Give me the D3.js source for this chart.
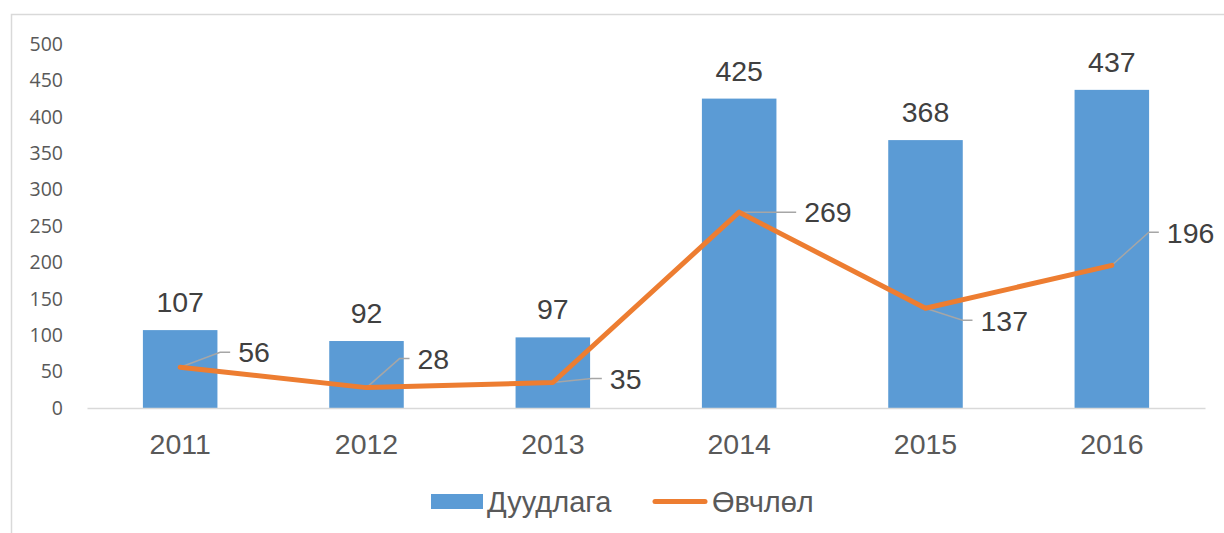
<!DOCTYPE html>
<html>
<head>
<meta charset="utf-8">
<script src="https://cdn.jsdelivr.net/npm/d3@7"></script>
<style>
  body { margin: 0; background: #fff; }
  #chart-box { width: 1224px; height: 533px; }
</style>
</head>
<body>
<div id="chart-box"></div>
<script>
// Chart data
const years = ["2011", "2012", "2013", "2014", "2015", "2016"];
const calls = [107, 92, 97, 425, 368, 437];      // Дуудлага (bars)
const illness = [56, 28, 35, 269, 137, 196];     // Өвчлөл (line)
const yTicks = [0, 50, 100, 150, 200, 250, 300, 350, 400, 450, 500];
const seriesNames = ["Дуудлага", "Өвчлөл"];

// label offsets for the line data labels (moved by hand in the original)
const lineLabelShift = [[58, -15], [51, -29], [57, -4], [65, 0], [55, 12], [55, -33]];

const w = 1224, h = 533;
const blue = "#5B9BD5", orange = "#ED7D31";

const svg = d3.select("#chart-box")
  .append("svg")
  .attr("width", w)
  .attr("height", h)
  .style("font-family", "'Liberation Sans', Arial, sans-serif");

// frame (only top and left edges visible)
svg.append("path")
  .attr("d", "M11.5," + h + "V14.5H" + w)
  .attr("fill", "none")
  .attr("stroke", "#D9D9D9")
  .attr("stroke-width", 1.5);

// scales
const x = d3.scaleBand()
  .domain(years)
  .range([87, 1205])
  .paddingInner(0.6)
  .paddingOuter(0.3);

const y = d3.scaleLinear()
  .domain([0, 500])
  .range([408, 44]);

// Y axis labels
const yAxis = d3.axisLeft(y).tickValues(yTicks).tickSize(0).tickPadding(0);
const gy = svg.append("g")
  .attr("transform", "translate(63,0)")
  .call(yAxis);
gy.select(".domain").remove();
gy.selectAll("text")
  .attr("fill", "#595959")
  .style("font-family", "'Open Sans', 'Noto Sans', sans-serif")
  .style("font-size", "19.5px");

// bars
svg.selectAll("rect.bar")
  .data(calls)
  .enter()
  .append("rect")
  .attr("class", "bar")
  .attr("x", (d, i) => x(years[i]))
  .attr("y", d => y(d))
  .attr("width", x.bandwidth())
  .attr("height", d => y(0) - y(d))
  .attr("fill", blue);

// X axis baseline and labels
const xAxis = d3.axisBottom(x).tickSize(0).tickPadding(0);
const gx = svg.append("g")
  .attr("transform", "translate(0," + y(0) + ")")
  .call(xAxis);
gx.select(".domain")
  .attr("stroke", "#D9D9D9")
  .attr("stroke-width", 1.5);
gx.selectAll("text")
  .attr("fill", "#595959")
  .attr("dy", "1.6em")
  .style("font-family", "'Liberation Sans', Arial, sans-serif")
  .style("font-size", "28.5px");

// bar value labels
svg.selectAll("text.bar-label")
  .data(calls)
  .enter()
  .append("text")
  .attr("class", "bar-label")
  .attr("x", (d, i) => x(years[i]) + x.bandwidth() / 2)
  .attr("y", d => y(d) - 18)
  .attr("text-anchor", "middle")
  .attr("fill", "#404040")
  .style("font-size", "28.5px")
  .text(d => d);

// line
const cx = (d, i) => x(years[i]) + x.bandwidth() / 2;
const line = d3.line()
  .x(cx)
  .y(d => y(d));

// leader lines
svg.selectAll("path.leader")
  .data(illness)
  .enter()
  .append("path")
  .attr("class", "leader")
  .attr("d", (d, i) => {
    const px = cx(d, i), py = y(d);
    const s = lineLabelShift[i];
    return "M" + px + "," + py + "L" + (px + s[0] - 18) + "," + (py + s[1]) +
      "L" + (px + s[0] - 8) + "," + (py + s[1]);
  })
  .attr("fill", "none")
  .attr("stroke", "#A6A6A6")
  .attr("stroke-width", 1.5);

svg.append("path")
  .datum(illness)
  .attr("d", line)
  .attr("fill", "none")
  .attr("stroke", orange)
  .attr("stroke-width", 5)
  .attr("stroke-linejoin", "round")
  .attr("stroke-linecap", "round");

// line value labels
svg.selectAll("text.line-label")
  .data(illness)
  .enter()
  .append("text")
  .attr("class", "line-label")
  .attr("x", (d, i) => cx(d, i) + lineLabelShift[i][0])
  .attr("y", (d, i) => y(d) + lineLabelShift[i][1])
  .attr("dy", "0.36em")
  .attr("fill", "#404040")
  .style("font-size", "28.5px")
  .text(d => d);

// legend
const legend = svg.append("g");
legend.append("rect")
  .attr("x", 431)
  .attr("y", 494)
  .attr("width", 52)
  .attr("height", 15)
  .attr("fill", blue);
legend.append("text")
  .attr("x", 487)
  .attr("y", 502)
  .attr("dy", "0.36em")
  .attr("fill", "#595959")
  .style("font-size", "29px")
  .text(seriesNames[0]);
legend.append("line")
  .attr("x1", 655)
  .attr("x2", 705)
  .attr("y1", 501.5)
  .attr("y2", 501.5)
  .attr("stroke", orange)
  .attr("stroke-width", 5)
  .attr("stroke-linecap", "round");
legend.append("text")
  .attr("x", 712)
  .attr("y", 502)
  .attr("dy", "0.36em")
  .attr("fill", "#595959")
  .style("font-size", "29px")
  .text(seriesNames[1]);
</script>
</body>
</html>
